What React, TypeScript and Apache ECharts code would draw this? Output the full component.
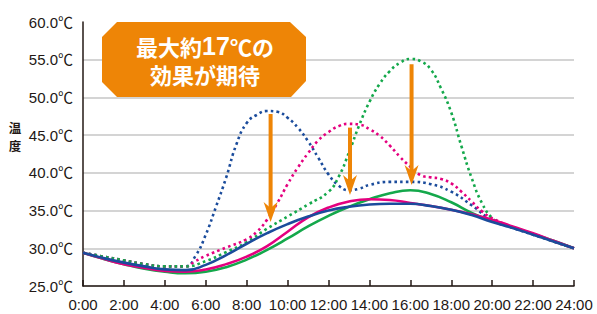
import React, { useEffect, useRef } from "react";
import * as echarts from "echarts";

// ---- data ----
const HOURS = [0, 1, 2, 3, 4, 5, 6, 7, 8, 9, 10, 11, 12, 13, 14, 15, 16, 17, 18, 19, 20, 21, 22, 23, 24];
const BLUE_SOLID = [29.4, 28.7, 28.1, 27.6, 27.2, 27.1, 27.8, 29.1, 30.6, 32.0, 33.2, 34.2, 35.0, 35.5, 35.8, 35.9, 35.9, 35.6, 35.1, 34.4, 33.5, 32.7, 31.8, 30.9, 30.0];
const MAGENTA_SOLID = [29.4, 28.6, 27.9, 27.4, 27.0, 26.9, 27.2, 27.9, 28.9, 30.3, 32.2, 34.1, 35.4, 36.2, 36.5, 36.4, 36.0, 35.6, 35.1, 34.5, 33.8, 32.9, 32.0, 31.0, 30.0];
const GREEN_SOLID = [29.4, 28.6, 27.9, 27.3, 26.9, 26.7, 26.9, 27.5, 28.5, 29.8, 31.3, 32.9, 34.3, 35.5, 36.5, 37.3, 37.7, 37.2, 36.1, 34.7, 33.6, 32.8, 31.9, 31.0, 30.0];

const BLUE_DOT_H = [0, 1, 2, 3, 4, 5, 5.5, 6, 6.5, 7, 7.5, 8, 8.5, 9, 9.5, 10, 10.5, 11, 11.5, 12, 12.5, 13, 13.5, 14, 15, 16, 17, 18, 19, 20, 21, 22, 23, 24];
const BLUE_DOT_T = [29.4, 28.9, 28.4, 27.9, 27.6, 27.6, 29.0, 31.8, 35.5, 39.4, 43.8, 46.6, 47.7, 48.2, 48.1, 47.3, 46.0, 44.2, 42.0, 39.8, 38.3, 37.7, 37.9, 38.4, 38.8, 38.8, 38.5, 37.5, 35.7, 33.7, 32.7, 31.8, 30.9, 30.0];

const MAGENTA_DOT_H = [0, 1, 2, 3, 4, 5, 5.5, 6, 7, 8, 8.5, 9, 9.5, 10, 10.5, 11, 11.5, 12, 12.5, 13, 13.5, 14, 14.5, 15, 15.5, 16, 16.5, 17, 17.5, 18, 18.5, 19, 19.5, 20, 21, 22, 23, 24];
const MAGENTA_DOT_T = [29.4, 28.9, 28.4, 27.9, 27.6, 27.6, 28.3, 29.0, 30.1, 31.2, 32.2, 33.8, 36.0, 38.5, 40.7, 42.6, 44.3, 45.4, 46.2, 46.5, 46.4, 45.8, 44.9, 43.6, 42.1, 40.8, 39.7, 39.4, 39.2, 38.6, 37.5, 36.2, 34.9, 34.0, 32.8, 31.9, 30.9, 30.0];

const GREEN_DOT_H = [0, 1, 2, 3, 4, 5, 6, 7, 8, 9, 10, 11, 12, 12.5, 13, 13.5, 14, 14.5, 15, 15.5, 16, 16.5, 17, 17.5, 18, 18.5, 19, 19.5, 20, 20.5, 21, 22, 23, 24];
const GREEN_DOT_T = [29.4, 28.9, 28.4, 27.9, 27.6, 27.6, 28.3, 29.5, 30.8, 32.6, 34.2, 35.8, 37.5, 39.5, 42.7, 46.3, 49.4, 51.8, 53.5, 54.6, 55.1, 54.8, 53.7, 51.2, 48.0, 43.5, 39.3, 36.0, 34.0, 33.2, 32.8, 31.9, 30.9, 30.0];

// arrows: hour, start temperature, tip temperature
const ARROW_X = [9.17, 13.05, 16.06];
const ARROW_FROM = [47.8, 46.0, 54.4];
const ARROW_TO = [33.5, 37.05, 38.4];

const Y_MIN = 25;
const Y_MAX = 60;
const Y_STEP = 5;
const X_MIN = 0;
const X_MAX = 24;
const X_STEP = 2;

const BOX_LINE1 = ["最大約", "17", "℃の"];
const BOX_LINE2 = "効果が期待";
const Y_NAME = ["温", "度"];

const BLUE = "#1b4c9c";
const MAGENTA = "#e4007f";
const GREEN = "#14a84b";
const ORANGE = "#ee8506";
const DARK = "#231815";
const GRID = "#c6c6c6";
const FONT = '"Liberation Sans", "Noto Sans CJK JP", sans-serif';
const CJK = '"Noto Sans CJK JP", "Liberation Sans", sans-serif';

const pairs = (h: number[], t: number[]) => h.map((x, i) => [x, t[i]]);

export default function App() {
  const ref = useRef<HTMLDivElement>(null);
  useEffect(() => {
    document.body.style.margin = "0";
    const chart = echarts.init(ref.current!, null, { renderer: "svg" });
    const nLines = Math.round((Y_MAX - Y_MIN) / Y_STEP) + 1;
    const splitColors = Array.from({ length: nLines }, (_, i) => (i === nLines - 1 ? "rgba(0,0,0,0)" : GRID));

    const dotted = (name: string, color: string, data: number[][]) => ({
      name,
      type: "line",
      data,
      smooth: 0.5,
      showSymbol: false,
      symbol: "none",
      lineStyle: { color, width: 2.6, type: [2.6, 3.2] },
      z: 3,
    });
    const solid = (name: string, color: string, data: number[][]) => ({
      name,
      type: "line",
      data,
      smooth: 0.5,
      showSymbol: false,
      symbol: "none",
      lineStyle: { color, width: 2.6, type: "solid" },
      z: 4,
    });

    chart.setOption({
      animation: false,
      grid: { left: 83, right: 23, top: 22, bottom: 28, containLabel: false },
      xAxis: {
        type: "value",
        min: X_MIN,
        max: X_MAX,
        interval: X_STEP,
        axisLine: { show: true, lineStyle: { color: DARK, width: 1.5 } },
        axisTick: { show: true, inside: true, length: 6, lineStyle: { color: DARK, width: 1.5 } },
        splitLine: { show: false },
        axisLabel: {
          color: DARK,
          fontSize: 15,
          fontFamily: FONT,
          margin: 11,
          formatter: (v: number) => `${v}:00`,
        },
      },
      yAxis: {
        type: "value",
        min: Y_MIN,
        max: Y_MAX,
        interval: Y_STEP,
        axisLine: { show: true, lineStyle: { color: DARK, width: 1.5 } },
        axisTick: { show: false },
        splitLine: { show: true, lineStyle: { color: splitColors, width: 1.5 } },
        axisLabel: {
          color: DARK,
          fontSize: 15,
          fontFamily: FONT,
          margin: 10,
          formatter: (v: number) => `${v.toFixed(1)}℃`,
        },
      },
      graphic: [
        {
          type: "polygon",
          shape: {
            points: [
              [117, 22], [290, 22], [306, 37], [306, 81], [291, 97], [117, 97], [102, 82], [102, 37],
            ],
          },
          style: { fill: ORANGE },
          z: 20,
        },
        {
          type: "text",
          x: 205,
          y: 46,
          style: {
            text: `{a|${BOX_LINE1[0]}}{b|${BOX_LINE1[1]}}{a|${BOX_LINE1[2]}}`,
            align: "center",
            verticalAlign: "middle",
            rich: {
              a: { fontSize: 22, fontWeight: "bold", fontFamily: CJK, fill: "#fff" },
              b: { fontSize: 25, fontWeight: "bold", fontFamily: FONT, fill: "#fff" },
            },
            fill: "#fff",
          },
          z: 21,
        },
        {
          type: "text",
          x: 205,
          y: 74,
          style: {
            text: BOX_LINE2,
            align: "center",
            verticalAlign: "middle",
            fontSize: 22,
            fontWeight: "bold",
            fontFamily: CJK,
            fill: "#fff",
          },
          z: 21,
        },
        ...Y_NAME.map((ch, i) => ({
          type: "text",
          x: 15,
          y: 127.5 + i * 17.5,
          style: {
            text: ch,
            align: "center",
            verticalAlign: "middle",
            fontSize: 12.5,
            lineHeight: 12.5,
            fontWeight: "bold",
            fontFamily: CJK,
            fill: DARK,
          },
        })),
      ],
      series: [
        dotted("blueDot", BLUE, pairs(BLUE_DOT_H, BLUE_DOT_T)),
        dotted("magentaDot", MAGENTA, pairs(MAGENTA_DOT_H, MAGENTA_DOT_T)),
        dotted("greenDot", GREEN, pairs(GREEN_DOT_H, GREEN_DOT_T)),
        solid("green", GREEN, pairs(HOURS, GREEN_SOLID)),
        solid("magenta", MAGENTA, pairs(HOURS, MAGENTA_SOLID)),
        solid("blue", BLUE, pairs(HOURS, BLUE_SOLID)),
        {
          type: "custom",
          name: "arrows",
          data: ARROW_X.map((x, i) => [x, ARROW_FROM[i], ARROW_TO[i]]),
          encode: { x: 0, y: [1, 2] },
          z: 10,
          renderItem: (_params: any, api: any) => {
            const x = api.value(0);
            const p1 = api.coord([x, api.value(1)]);
            const p2 = api.coord([x, api.value(2)]);
            const hw = 7;
            const hh = 20;
            const notch = 14;
            return {
              type: "group",
              children: [
                {
                  type: "rect",
                  shape: { x: p1[0] - 2, y: p1[1], width: 4, height: p2[1] - p1[1] - 12 },
                  style: { fill: ORANGE },
                },
                {
                  type: "polygon",
                  shape: {
                    points: [
                      [p2[0], p2[1]],
                      [p2[0] + hw, p2[1] - hh],
                      [p2[0], p2[1] - notch],
                      [p2[0] - hw, p2[1] - hh],
                    ],
                  },
                  style: { fill: ORANGE },
                },
              ],
            };
          },
        },
      ],
    });
    return () => chart.dispose();
  }, []);
  return <div ref={ref} style={{ width: 597, height: 314 }} />;
}
